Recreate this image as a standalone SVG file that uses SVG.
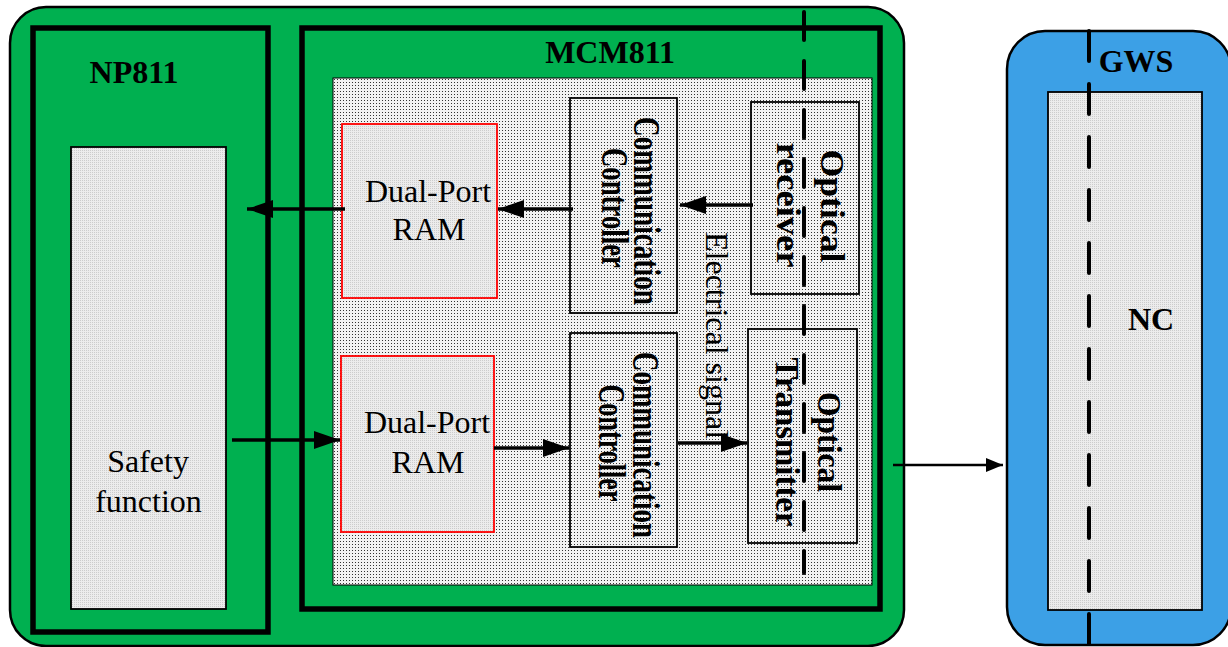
<svg xmlns="http://www.w3.org/2000/svg" width="1228" height="647" viewBox="0 0 1228 647">
<style>
.thick{fill:none;stroke:#000;stroke-width:5.5}
.box{fill:none;stroke:#000;stroke-width:1.8}
.ram{fill:url(#fine);stroke:#ff0000;stroke-width:1.8}
.lbl{font-family:"Liberation Serif","Times New Roman",serif;font-size:32px;fill:#000}
.b{font-weight:bold}
.vt{font-family:"Liberation Serif","Times New Roman",serif;font-weight:bold;fill:#000}
.conn{stroke:#000;stroke-width:3.5;fill:none}
.dash{stroke:#000;stroke-width:4;stroke-linecap:round;fill:none}
</style>
<defs>
<pattern id="dots" width="3" height="3" patternUnits="userSpaceOnUse">
<rect width="3" height="3" fill="#f2f2f2"/>
<rect x="1" y="1" width="1" height="1" fill="#333333"/>
</pattern>
<pattern id="fine" width="2" height="2" patternUnits="userSpaceOnUse">
<rect width="2" height="2" fill="#ececec"/>
<rect width="1" height="1" fill="#cccccc"/>
</pattern>
<marker id="ah" markerUnits="userSpaceOnUse" markerWidth="27" markerHeight="18" refX="26" refY="9" orient="auto">
<path d="M0,0 L26,9 L0,18 z" fill="#000"/>
</marker>
<marker id="ahs" markerUnits="userSpaceOnUse" markerWidth="18" markerHeight="14" refX="17" refY="7" orient="auto">
<path d="M0,0 L17,7 L0,14 z" fill="#000"/>
</marker>
</defs>

<g id="system">
<rect x="10" y="7" width="894" height="639" rx="36" fill="#00b050" stroke="#000" stroke-width="2.5"/>
</g>

<g id="np811">
<rect class="thick" x="33" y="28" width="235" height="604"/>
<text class="lbl b" x="134" y="83" text-anchor="middle">NP811</text>
</g>

<g id="safety">
<rect x="71" y="147" width="155" height="462" fill="url(#fine)" stroke="#000" stroke-width="1.8"/>
<text class="lbl" x="148" y="472" text-anchor="middle">Safety</text>
<text class="lbl" x="148.5" y="512" text-anchor="middle">function</text>
</g>

<g id="mcm811">
<rect class="thick" x="302" y="28" width="578" height="581"/>
<rect x="333" y="78" width="539" height="507" fill="url(#dots)" stroke="#000" stroke-width="1"/>
<text class="lbl b" x="610" y="63" text-anchor="middle">MCM811</text>
</g>

<g id="ram-top">
<rect class="ram" x="342" y="124" width="155" height="174"/>
<text class="lbl" x="428" y="202" text-anchor="middle">Dual-Port</text>
<text class="lbl" x="429" y="240" text-anchor="middle">RAM</text>
</g>

<g id="cc-top">
<rect class="box" x="570" y="98" width="107" height="215"/>
<text class="vt" font-size="38" transform="translate(634,211) rotate(90)" text-anchor="middle" textLength="188" lengthAdjust="spacingAndGlyphs">Communication</text>
<text class="vt" font-size="38" transform="translate(602,208) rotate(90)" text-anchor="middle" textLength="120" lengthAdjust="spacingAndGlyphs">Controller</text>
</g>

<g id="receiver">
<rect class="box" x="751" y="102" width="108" height="192"/>
<text class="vt" font-size="34" transform="translate(821,206) rotate(90)" text-anchor="middle" textLength="113" lengthAdjust="spacingAndGlyphs">Optical</text>
<text class="vt" font-size="34" transform="translate(777,205) rotate(90)" text-anchor="middle" textLength="125" lengthAdjust="spacingAndGlyphs">receiver</text>
</g>

<g id="ram-bottom">
<rect class="ram" x="341" y="356" width="153" height="176"/>
<text class="lbl" x="427" y="433" text-anchor="middle">Dual-Port</text>
<text class="lbl" x="428" y="473" text-anchor="middle">RAM</text>
</g>

<g id="cc-bottom">
<rect class="box" x="570" y="333" width="107" height="214"/>
<text class="vt" font-size="38" transform="translate(633,445) rotate(90)" text-anchor="middle" textLength="186" lengthAdjust="spacingAndGlyphs">Communication</text>
<text class="vt" font-size="38" transform="translate(599,443) rotate(90)" text-anchor="middle" textLength="117" lengthAdjust="spacingAndGlyphs">Controller</text>
</g>

<g id="transmitter">
<rect class="box" x="748" y="329" width="109" height="214"/>
<text class="vt" font-size="34" transform="translate(818,442) rotate(90)" text-anchor="middle" textLength="100" lengthAdjust="spacingAndGlyphs">Optical</text>
<text class="vt" font-size="34" transform="translate(776,442) rotate(90)" text-anchor="middle" textLength="169" lengthAdjust="spacingAndGlyphs">Transmitter</text>
</g>

<g id="gws">
<rect x="1007" y="31" width="224" height="614" rx="38" fill="#3ca0e6" stroke="#000" stroke-width="2.5"/>
<rect x="1048" y="92" width="154" height="518" fill="url(#fine)" stroke="#000" stroke-width="1.8"/>
<text class="lbl b" x="1136" y="72" text-anchor="middle" font-size="33">GWS</text>
<text class="lbl b" x="1151" y="330" text-anchor="middle">NC</text>
</g>

<g id="connectors">
<line class="conn" x1="345" y1="209" x2="247" y2="209" marker-end="url(#ah)"/>
<line class="conn" x1="573" y1="209" x2="498" y2="209" marker-end="url(#ah)"/>
<line class="conn" x1="753" y1="205" x2="680" y2="205" marker-end="url(#ah)"/>
<line class="conn" x1="232" y1="440" x2="340" y2="440" marker-end="url(#ah)"/>
<line class="conn" x1="494" y1="448" x2="569" y2="448" marker-end="url(#ah)"/>
<line class="conn" x1="678" y1="443" x2="747" y2="443" marker-end="url(#ah)"/>
<line x1="893" y1="465" x2="1003" y2="465" stroke="#000" stroke-width="2.5" marker-end="url(#ahs)"/>
<text class="lbl" font-size="32" transform="translate(706,232) rotate(90)">Electrical signal</text>
<line class="dash" x1="804" y1="10" x2="804" y2="573" stroke-dasharray="28 21" stroke-dashoffset="-2"/>
<line class="dash" x1="1089" y1="31" x2="1089" y2="650" stroke-dasharray="30 23"/>
</g>
</svg>
